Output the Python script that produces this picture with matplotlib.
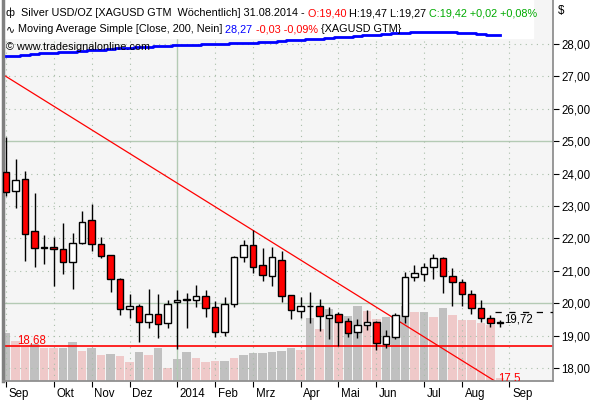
import numpy as np
import pandas as pd
import matplotlib
matplotlib.use('Agg')
import matplotlib.pyplot as plt
from matplotlib.transforms import ScaledTranslation

plt.rcParams['font.family'] = ['Liberation Sans', 'DejaVu Sans']

# weekly bars, XAGUSD, Sep 2013 - Aug 2014
first_week = '2013-09-01'
opens = [24.04, 23.47, 23.82, 22.23, 21.72, 21.74, 21.67, 21.26, 21.85, 22.57,
         21.82, 21.48, 20.74, 19.81, 19.90, 19.43, 19.66, 19.38, 20.04, 20.12,
         20.10, 20.23, 19.87, 19.10, 19.97, 21.42, 21.79, 21.17, 20.83, 21.35,
         20.24, 19.75, 19.92, 19.93, 19.56, 19.66, 19.44, 19.10, 19.32, 19.41,
         18.75, 18.97, 19.61, 20.80, 20.89, 21.11, 21.39, 20.83, 20.66, 20.27,
         19.84, 19.53, 19.40]
highs = [25.12, 24.45, 24.08, 23.41, 22.10, 22.03, 22.47, 22.16, 22.85, 23.06,
         22.03, 21.50, 20.77, 20.28, 19.97, 20.44, 20.27, 20.10, 20.41, 20.31,
         20.56, 20.41, 20.07, 20.20, 21.46, 21.95, 22.26, 21.69, 21.73, 21.61,
         20.26, 20.18, 20.34, 20.12, 19.87, 19.72, 19.53, 19.50, 19.78, 19.44,
         19.16, 19.69, 20.95, 21.18, 21.23, 21.53, 21.44, 21.08, 20.76, 20.41,
         20.10, 19.64, 19.47]
lows = [23.32, 22.95, 21.31, 21.13, 21.21, 20.53, 20.89, 20.43, 21.83, 21.62,
        21.40, 20.36, 19.64, 19.53, 18.81, 19.23, 18.92, 19.23, 18.59, 19.24,
        19.87, 19.58, 18.95, 19.00, 19.87, 21.26, 20.92, 20.68, 20.52, 20.05,
        19.50, 19.56, 19.38, 19.15, 18.89, 18.69, 18.95, 18.94, 19.16, 18.56,
        18.61, 18.89, 19.38, 20.69, 20.69, 20.74, 20.31, 19.92, 19.92, 19.67,
        19.43, 19.26, 19.27]
closes = [23.44, 23.79, 22.15, 21.71, 21.74, 21.66, 21.28, 21.85, 22.50, 21.82,
          21.45, 20.74, 19.81, 19.90, 19.43, 19.66, 19.35, 19.99, 20.10, 20.10,
          20.23, 19.84, 19.10, 19.97, 21.42, 21.79, 21.11, 20.86, 21.42, 20.21,
          19.78, 19.90, 19.90, 19.60, 19.63, 19.41, 19.07, 19.32, 19.41, 18.76,
          18.98, 19.63, 20.80, 20.92, 21.11, 21.39, 20.83, 20.66, 20.27, 19.84,
          19.53, 19.38, 19.42]
volume = [48, 40, 34, 37, 33, 33, 33, 39, 30, 33,
          26, 27, 25, 19, 29, 26, 33, 13, 22, 29,
          23, 19, 20, 20, 23, 26, 28, 28, 29, 30,
          33, 31, 63, 52, 72, 66, 65, 75, 70, 62,
          64, 65, 75, 69, 69, 64, 73, 66, 61, 61,
          58, 56, 3]
volume_up = [1, 0, 0, 1, 0, 0, 1, 1, 0, 1,
             0, 1, 0, 0, 1, 0, 1, 0, 1, 1,
             0, 0, 0, 1, 0, 1, 1, 1, 1, 1,
             1, 0, 1, 0, 1, 0, 1, 1, 0, 0,
             1, 1, 1, 0, 1, 0, 1, 0, 0, 0,
             0, 0, 0]
ma200 = [27.62, 27.64, 27.67, 27.69, 27.71, 27.73, 27.75, 27.77, 27.79, 27.81,
         27.83, 27.85, 27.87, 27.88, 27.90, 27.91, 27.93, 27.94, 27.96, 27.97,
         27.98, 27.99, 28.00, 28.01, 28.02, 28.03, 28.04, 28.05, 28.07, 28.09,
         28.11, 28.13, 28.15, 28.17, 28.19, 28.21, 28.23, 28.25, 28.27, 28.29,
         28.31, 28.33, 28.35, 28.36, 28.36, 28.36, 28.36, 28.36, 28.35, 28.33,
         28.31, 28.29, 28.27]
month_labels = ['Sep', 'Okt', 'Nov', 'Dez', '2014', 'Feb', 'Mrz', 'Apr',
                'Mai', 'Jun', 'Jul', 'Aug', 'Sep']
price_ticks = list(range(18, 29))
support = 18.68
last_mark = 19.72
trend_first, trend_last = 27.0, 17.5   # trendline value at first / last bar

n = len(closes)
idx = np.arange(n)
weeks = pd.date_range(first_week, periods=n + 1, freq='W-SUN')
month_pos = [0] + [i for i in range(1, n + 1) if weeks[i].month != weeks[i - 1].month]

UP, DOWN = 'white', '#ff0000'
GRIDC = '#a9bea9'
FS = 8.3      # axis / chart labels
HFS = 7.8     # header lines

fig = plt.figure(figsize=(6, 4), dpi=100)
rect = [2.5 / 600, 19 / 400, 550.5 / 600, 381 / 400]
xlim = (-0.37, 57.58)

# volume pane behind prices
vol_ax = fig.add_axes(rect)
vol_ax.set_facecolor('#f5f5f5')
vol_ax.bar(idx, volume, width=0.92,
           color=['#c0c0c0' if u else '#efc9c9' for u in volume_up])
vol_ax.set_xlim(*xlim)
vol_ax.set_ylim(0, max(volume) * 5.08)
vol_ax.set_xticks([])
vol_ax.set_yticks([])
for s in vol_ax.spines.values():
    s.set_visible(False)

ax = fig.add_axes(rect)
ax.patch.set_visible(False)
ax.set_xlim(*xlim)
ax.set_ylim(17.60, 29.36)

# grid
for v in price_ticks:
    if v in (20, 25):
        ax.axhline(v, color='#b4cab4', lw=1, zorder=0.5)
    else:
        ax.axhline(v, color=GRIDC, lw=0.8, ls=(0, (1, 4)), zorder=0.5)
for p, lab in zip(month_pos, month_labels):
    if lab == '2014':
        ax.axvline(p, color='#b4cab4', lw=1, zorder=0.5)
    else:
        ax.axvline(p, color=GRIDC, lw=0.8, ls=(0, (1, 4)), zorder=0.5)

# header box
ax.add_patch(plt.Rectangle((0, 1 - 38 / 381), 530 / 550, 38 / 381,
                           transform=ax.transAxes, color='white', zorder=1))

# moving average
ax.plot(idx, ma200, color='#0000ff', lw=2, drawstyle='steps-mid', zorder=3)

# support and trendline
ax.axhline(support, color='#ff0000', lw=1.2, zorder=2)
ax.text(1.2, support, f'{support:.2f}'.replace('.', ','), color='#ff0000',
        fontsize=FS, va='bottom', zorder=5)
ax.axline((0, trend_first), (n - 1, trend_last), color='#ff0000', lw=0.9, zorder=2)
ax.annotate(f'{trend_last:.1f}'.replace('.', ','), xy=(n - 1, trend_last),
            xytext=(-1, 4), textcoords='offset points', color='#ff0000',
            fontsize=FS, va='center', annotation_clip=False, clip_on=True, zorder=5)

# last mark
ax.plot([n - 1.5, xlim[1]], [last_mark, last_mark], color='black', lw=0.9,
        ls=(0, (5, 6)), zorder=4)
ax.annotate(f'{last_mark:.2f}'.replace('.', ','), xy=(n - 1, last_mark),
            xytext=(3, -5), textcoords='offset points', fontsize=FS,
            va='center', zorder=5)

# candles
o, h, l, c = map(np.array, (opens, highs, lows, closes))
ax.vlines(idx, l, h, color='black', lw=1, zorder=4)
ax.bar(idx, np.abs(c - o), bottom=np.minimum(o, c), width=0.64,
       color=[UP if cc >= oo else DOWN for oo, cc in zip(o, c)],
       edgecolor='black', linewidth=1, zorder=5)

# axes styling
ax.spines['top'].set_visible(False)
ax.spines['left'].set_color('#808080')
ax.spines['left'].set_linewidth(2.5)
for s in ('right', 'bottom'):
    ax.spines[s].set_color('#909090')
    ax.spines[s].set_linewidth(1.3)

ax.yaxis.tick_right()
ax.set_yticks(price_ticks)
ax.set_yticklabels([f'{v:.2f}'.replace('.', ',') for v in price_ticks])
ax.tick_params(axis='y', length=4, width=0.8, pad=2, labelsize=FS)
ax.set_xticks(month_pos)
ax.set_xticklabels(month_labels, ha='left')
ax.tick_params(axis='x', length=4, width=0.8, pad=1, labelsize=FS)
for lbl in ax.get_xticklabels():
    lbl.set_transform(lbl.get_transform() + ScaledTranslation(2 / 72, 0, fig.dpi_scale_trans))

fig.text(558 / 600, 1 - 11 / 400, '$', fontsize=FS, va='center')

# legend lines
renderer = fig.canvas.get_renderer()


def header(x_px, y_px, parts):
    x = x_px
    for txt, col in parts:
        t = fig.text(x / 600, 1 - y_px / 400, txt, color=col, fontsize=HFS,
                     va='center', ha='left', zorder=10)
        x += t.get_window_extent(renderer).width


header(6, 13, [('ф', 'black'),
               ('  Silver USD/OZ [XAGUSD GTM  Wöchentlich] 31.08.2014 -', 'black'),
               (' O:19,40', '#ff0000'),
               (' H:19,47 L:19,27', 'black'),
               (' C:19,42 +0,02 +0,08%', '#00aa00')])
header(6, 29, [('∿', 'black'),
               (' Moving Average Simple [Close, 200, Nein]', 'black'),
               (' 28,27', '#0000ff'),
               (' -0,03 -0,09%', '#ff0000'),
               (' {XAGUSD GTM}', 'black')])
header(6, 47, [('©', 'black'), (' www.tradesignalonline.com', 'black')])

fig.savefig('out.png', dpi=100)
plt.close()
